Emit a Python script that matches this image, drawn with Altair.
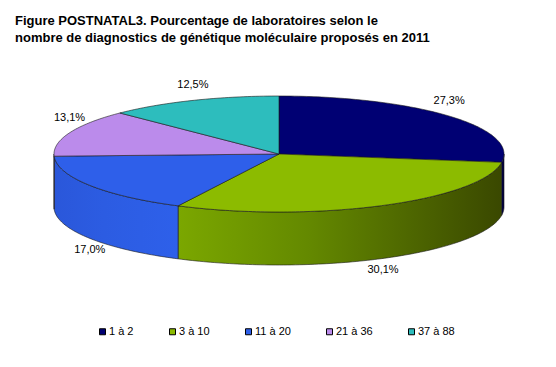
import math
import altair as alt
import pandas as pd

# ---- data ----
categories = ["1 à 2", "3 à 10", "11 à 20", "21 à 36", "37 à 88"]
percentages = [27.3, 30.1, 17.0, 13.1, 12.5]
label_texts = ["27,3%", "30,1%", "17,0%", "13,1%", "12,5%"]

# ---- styles ----
top_colors = ["#000073", "#8CBB00", "#2E5FEA", "#BB8BEB", "#2DBDBD"]
side_left = ["#000050", "#7BA700", "#2A57DA", "#A57AD2", "#27A5A5"]
side_mid = ["#000045", "#648900", "#2C5CE2", "#A57AD2", "#27A5A5"]
side_right = ["#00003A", "#3A4800", "#2E60EA", "#A57AD2", "#27A5A5"]
FONT = "Arial, Liberation Sans, sans-serif"

# ---- pie geometry (page pixels) ----
CX, CY, RX, RY, DEPTH = 279.0, 154.0, 225.0, 58.0, 53.0


def ell(t_deg, dy=0.0):
    t = math.radians(t_deg)
    return CX + RX * math.sin(t), CY - RY * math.cos(t) + dy


def arc_pts(t1, t2, dy=0.0, step=1.0):
    n = max(2, int(math.ceil((t2 - t1) / step)) + 1)
    return [ell(t1 + (t2 - t1) * k / (n - 1), dy) for k in range(n)]


# cumulative angles
starts, ends = [], []
acc = 0.0
for p in percentages:
    starts.append(acc * 3.6)
    acc += p
    ends.append(acc * 3.6)

xs = alt.X("x:Q", scale=alt.Scale(domain=[8, 548]), axis=None)
ys = alt.Y("y:Q", scale=alt.Scale(domain=[58, 359], reverse=True), axis=None)

# top faces
top_rows = []
for c, t1, t2 in zip(categories, starts, ends):
    pts = [(CX, CY)] + arc_pts(t1, t2) + [(CX, CY)]
    for i, (x, y) in enumerate(pts):
        top_rows.append({"cat": c, "i": i, "x": x, "y": y})
top_df = pd.DataFrame(top_rows)

# side faces (front half only, 90..270 degrees)
side_layers = []
for k, (c, t1, t2) in enumerate(zip(categories, starts, ends)):
    a, b = max(t1, 90.0), min(t2, 270.0)
    if b <= a:
        continue
    pts = arc_pts(a, b) + arc_pts(a, b, DEPTH)[::-1]
    pts.append(pts[0])
    df = pd.DataFrame([{"cat": c, "i": i, "x": x, "y": y} for i, (x, y) in enumerate(pts)])
    grad = alt.LinearGradient(
        gradient="linear",
        stops=[
            alt.GradientStop(color=side_left[k], offset=0),
            alt.GradientStop(color=side_mid[k], offset=0.4),
            alt.GradientStop(color=side_right[k], offset=1),
        ],
        x1=0, x2=1, y1=0, y2=0,
    )
    layer = alt.Chart(df).mark_line(
        filled=True, fill=grad, stroke="#1a1a1a", strokeWidth=0.6, interpolate="linear"
    ).encode(x=xs, y=ys, order="i:Q")
    side_layers.append(layer)

# labels
lab_rows = []
for c, t1, t2, txt in zip(categories, starts, ends, label_texts):
    mid = (t1 + t2) / 2
    cosm = math.cos(math.radians(mid))
    px, py = ell(mid, DEPTH if cosm < 0 else 0.0)
    py = py + 12 if cosm < 0 else py - 15
    lab_rows.append({"cat": c, "txt": txt, "x": px, "y": py})
lab_df = pd.DataFrame(lab_rows)

tops = alt.Chart(top_df).mark_line(
    filled=True, stroke="#1a1a1a", strokeWidth=0.6, interpolate="linear", opacity=1
).encode(
    x=xs,
    y=ys,
    order="i:Q",
    color=alt.Color(
        "cat:N",
        scale=alt.Scale(domain=categories, range=top_colors),
        legend=alt.Legend(
            title=None,
            orient="none",
            legendX=89,
            legendY=268,
            direction="horizontal",
            columns=5,
            columnPadding=33,
            symbolType="square",
            symbolSize=36,
            symbolStrokeColor="black",
            symbolStrokeWidth=1,
            symbolOpacity=1,
            labelFont=FONT,
            labelFontSize=11,
            labelOffset=1,
            labelColor="black",
        ),
    ),
)

labels = alt.Chart(lab_df).mark_text(
    font=FONT, fontSize=11, color="black", align="center", baseline="middle"
).encode(x=xs, y=ys, text="txt:N")

chart = alt.layer(*side_layers, tops, labels).properties(
    width=540,
    height=301,
    background="white",
    padding={"left": 0, "top": 50, "right": 0, "bottom": 0},
    autosize=alt.AutoSizeParams(type="none"),
    title=alt.TitleParams(
        text=[
            "Figure POSTNATAL3. Pourcentage de laboratoires selon le",
            "nombre de diagnostics de génétique moléculaire proposés en 2011",
        ],
        anchor="start",
        frame="group",
        font=FONT,
        fontSize=13,
        fontWeight="bold",
        color="black",
        lineHeight=17,
        baseline="bottom",
        offset=0,
        dx=7,
    ),
).configure_view(
    stroke=None, strokeWidth=0
).configure_axis(
    domain=False, grid=False, ticks=False, labels=False
)

chart.save("out.html", embed_options={"renderer": "svg", "actions": False})
